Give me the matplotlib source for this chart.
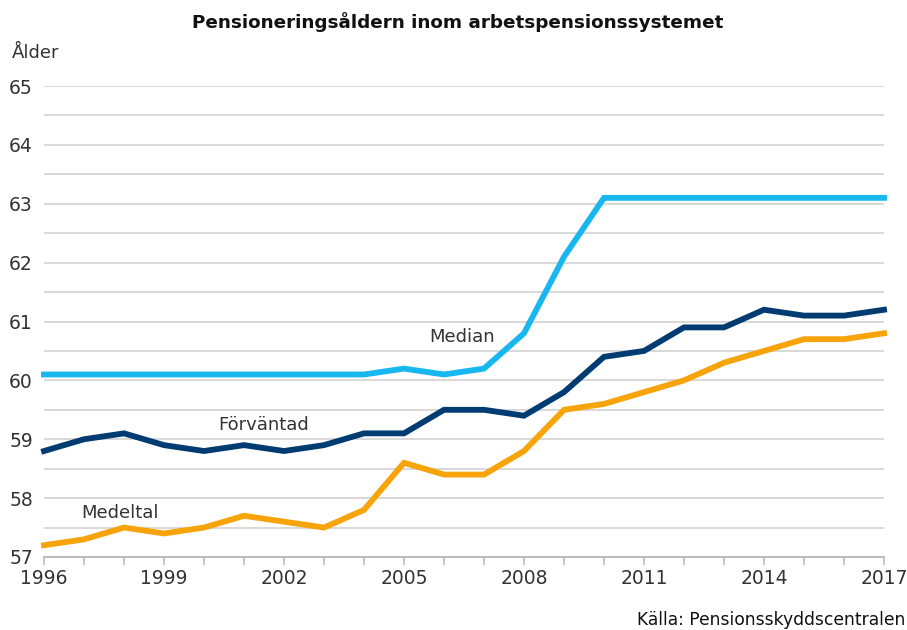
import matplotlib
matplotlib.use("Agg")
import matplotlib.pyplot as plt
import numpy as np

years = list(range(1996, 2018))
median = [60.1, 60.1, 60.1, 60.1, 60.1, 60.1, 60.1, 60.1, 60.1, 60.2, 60.1,
          60.2, 60.8, 62.1, 63.1, 63.1, 63.1, 63.1, 63.1, 63.1, 63.1, 63.1]
forvantad = [58.8, 59.0, 59.1, 58.9, 58.8, 58.9, 58.8, 58.9, 59.1, 59.1, 59.5,
             59.5, 59.4, 59.8, 60.4, 60.5, 60.9, 60.9, 61.2, 61.1, 61.1, 61.2]
medeltal = [57.2, 57.3, 57.5, 57.4, 57.5, 57.7, 57.6, 57.5, 57.8, 58.6, 58.4,
            58.4, 58.8, 59.5, 59.6, 59.8, 60.0, 60.3, 60.5, 60.7, 60.7, 60.8]
xtick_labels = ["1996", "1999", "2002", "2005", "2008", "2011", "2014", "2017"]
ytick_labels = ["57", "58", "59", "60", "61", "62", "63", "64", "65"]

plt.rcParams['font.family'] = ['DejaVu Sans']
fig = plt.figure(figsize=(9.07, 6.3), dpi=100)
ax = fig.add_axes([44/907, 73/630, 840/907, 471/630])

ax.plot(years, medeltal, color="#F7A30A", lw=4.2, solid_joinstyle='miter', zorder=3, clip_on=False)
ax.plot(years, forvantad, color="#003B71", lw=4.2, solid_joinstyle='miter', zorder=3, clip_on=False)
ax.plot(years, median, color="#18B7F0", lw=4.2, solid_joinstyle='miter', zorder=3, clip_on=False)

ax.set_xlim(1996, 2017)
ax.set_ylim(57, 65)
ax.set_yticks(np.arange(57, 65.01, 1))
ax.set_yticklabels(ytick_labels)
ax.set_xticks([int(t) for t in xtick_labels])
ax.set_xticklabels(xtick_labels)
ax.set_xticks(years, minor=True)

for y in np.arange(57.5, 65.01, 0.5):
    ax.axhline(y, color="#D5D5D5", lw=1.3, zorder=1)

for s in ["top", "right", "left"]:
    ax.spines[s].set_visible(False)
ax.spines["bottom"].set_color("#BDBDBD")
ax.spines["bottom"].set_linewidth(1.5)

ax.tick_params(axis='y', which='both', length=0, labelsize=13.5, colors="#333333", pad=8)
ax.tick_params(axis='x', which='both', length=6, width=1.2, color="#BDBDBD", direction='out',
               labelsize=13.5, labelcolor="#333333", pad=3)

ax.text(2006.45, 60.74, "Median", fontsize=13, color="#333333", ha='center', va='center')
ax.text(2001.5, 59.24, "Förväntad", fontsize=13, color="#333333", ha='center', va='center')
ax.text(1997.9, 57.75, "Medeltal", fontsize=13, color="#333333", ha='center', va='center')

fig.text(458/907, 1 - 22/630, "Pensioneringsåldern inom arbetspensionssystemet", fontsize=13.2,
         fontweight='bold', ha='center', va='center', color="#111111")
fig.text(12/907, 1 - 53/630, "Ålder", fontsize=13, ha='left', va='center', color="#333333")
fig.text(905/907, 1 - 620/630, "Källa: Pensionsskyddscentralen", fontsize=12.3, ha='right', va='center', color="#111111")

fig.savefig("out.png", dpi=100, facecolor="white")
